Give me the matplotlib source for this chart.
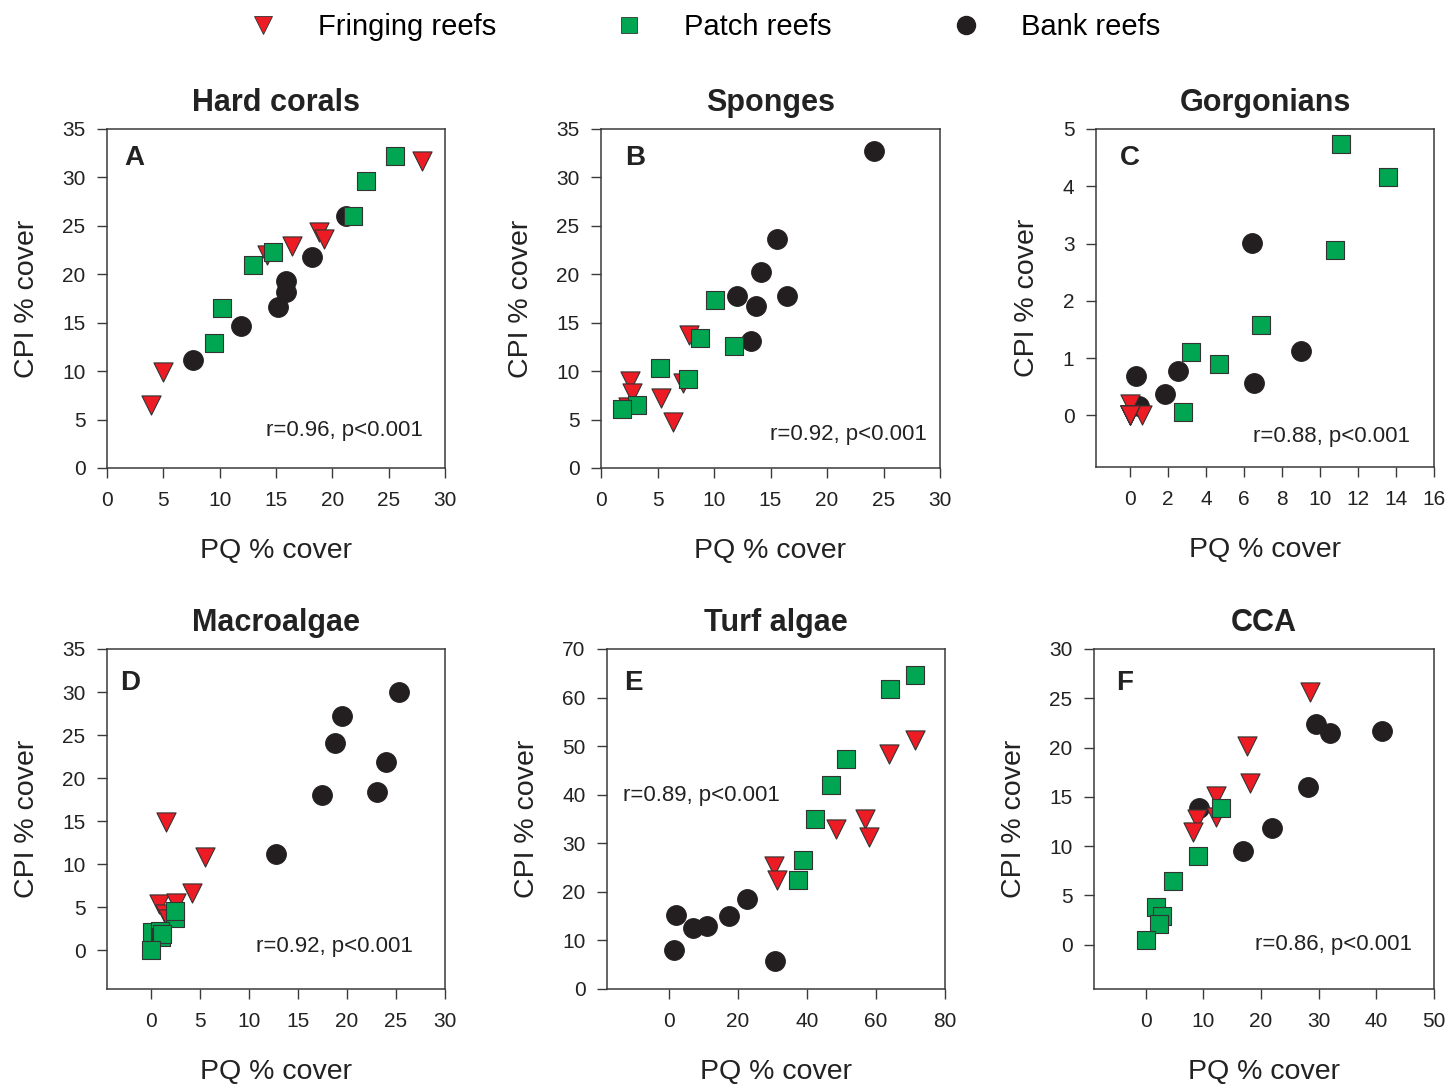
import numpy as np
import matplotlib
matplotlib.use('Agg')
import matplotlib.pyplot as plt
from matplotlib.lines import Line2D

# A - Hard corals
hc_fringing_pq = [28.0, 3.9, 5.0, 14.2, 16.4, 18.8, 19.3]
hc_fringing_cpi = [31.7, 6.5, 9.9, 22.0, 22.9, 24.4, 23.6]
hc_patch_pq = [25.6, 23.0, 21.8, 14.7, 13.0, 10.2, 9.5]
hc_patch_cpi = [32.2, 29.6, 26.0, 22.3, 21.0, 16.5, 12.9]
hc_bank_pq = [21.2, 18.2, 15.9, 15.9, 15.2, 11.9, 7.6]
hc_bank_cpi = [26.0, 21.8, 19.3, 18.2, 16.6, 14.7, 11.1]

# B - Sponges
sp_fringing_pq = [2.6, 2.7, 2.4, 7.8, 7.3, 5.3, 6.4]
sp_fringing_cpi = [9.0, 7.7, 6.3, 13.7, 8.8, 7.2, 4.7]
sp_patch_pq = [10.1, 8.8, 11.8, 5.2, 7.7, 3.2, 1.9]
sp_patch_cpi = [17.3, 13.4, 12.6, 10.3, 9.2, 6.5, 6.1]
sp_bank_pq = [24.2, 15.6, 14.2, 12.0, 16.5, 13.7, 13.3]
sp_bank_cpi = [32.7, 23.6, 20.2, 17.8, 17.8, 16.7, 13.1]

# C - Gorgonians
gg_fringing_pq = [0.0, 0.0, 0.6, 0.0, 0.0, 0.0, 0.0]
gg_fringing_cpi = [0.2, 0.0, 0.0, 0.0, 0.0, 0.0, 0.0]
gg_patch_pq = [11.1, 13.6, 10.8, 6.9, 3.2, 4.7, 2.8]
gg_patch_cpi = [4.74, 4.17, 2.89, 1.57, 1.10, 0.90, 0.06]
gg_bank_pq = [6.4, 9.0, 2.5, 0.3, 1.85, 6.5, 0.45]
gg_bank_cpi = [3.01, 1.13, 0.78, 0.69, 0.38, 0.57, 0.17]

# D - Macroalgae
ma_fringing_pq = [1.5, 5.5, 4.2, 0.85, 2.5, 1.4, 1.7]
ma_fringing_cpi = [14.9, 10.8, 6.7, 5.35, 5.5, 4.2, 3.6]
ma_patch_pq = [2.4, 2.4, 0.1, 0.9, 1.0, 1.1, 0.0]
ma_patch_cpi = [3.8, 4.6, 2.1, 2.2, 1.5, 1.9, 0.0]
ma_bank_pq = [25.3, 19.5, 18.8, 24.0, 23.1, 17.4, 12.7]
ma_bank_cpi = [30.0, 27.2, 24.1, 21.9, 18.4, 18.0, 11.2]

# E - Turf algae
ta_fringing_pq = [71.3, 63.9, 56.7, 58.1, 48.5, 30.3, 31.2]
ta_fringing_cpi = [51.3, 48.4, 35.1, 31.3, 32.9, 25.3, 22.4]
ta_patch_pq = [71.3, 64.1, 51.2, 47.0, 42.3, 38.7, 37.5]
ta_patch_cpi = [64.7, 61.8, 47.3, 42.0, 35.1, 26.5, 22.4]
ta_bank_pq = [22.6, 17.5, 2.1, 7.0, 11.1, 1.3, 30.6]
ta_bank_cpi = [18.6, 15.1, 15.2, 12.6, 13.0, 8.1, 5.7]

# F - CCA
cca_fringing_pq = [28.4, 17.6, 18.1, 12.2, 12.1, 8.8, 8.2]
cca_fringing_cpi = [25.6, 20.2, 16.4, 15.1, 13.0, 12.7, 11.4]
cca_patch_pq = [13.1, 9.1, 4.75, 1.74, 2.73, 2.26, 0.0]
cca_patch_cpi = [13.9, 9.0, 6.5, 3.84, 2.9, 2.1, 0.44]
cca_bank_pq = [29.5, 32.0, 40.9, 28.1, 21.9, 16.9, 9.2]
cca_bank_cpi = [22.4, 21.5, 21.7, 16.0, 11.8, 9.5, 13.9]

titles = ['Hard corals', 'Sponges', 'Gorgonians', 'Macroalgae', 'Turf algae', 'CCA']
letters = ['A', 'B', 'C', 'D', 'E', 'F']
stats = ['r=0.96, p<0.001', 'r=0.92, p<0.001', 'r=0.88, p<0.001',
         'r=0.92, p<0.001', 'r=0.89, p<0.001', 'r=0.86, p<0.001']
group_names = ['Fringing reefs', 'Patch reefs', 'Bank reefs']

panels = [
    (hc_fringing_pq, hc_fringing_cpi, hc_patch_pq, hc_patch_cpi, hc_bank_pq, hc_bank_cpi),
    (sp_fringing_pq, sp_fringing_cpi, sp_patch_pq, sp_patch_cpi, sp_bank_pq, sp_bank_cpi),
    (gg_fringing_pq, gg_fringing_cpi, gg_patch_pq, gg_patch_cpi, gg_bank_pq, gg_bank_cpi),
    (ma_fringing_pq, ma_fringing_cpi, ma_patch_pq, ma_patch_cpi, ma_bank_pq, ma_bank_cpi),
    (ta_fringing_pq, ta_fringing_cpi, ta_patch_pq, ta_patch_cpi, ta_bank_pq, ta_bank_cpi),
    (cca_fringing_pq, cca_fringing_cpi, cca_patch_pq, cca_patch_cpi, cca_bank_pq, cca_bank_cpi),
]

# axis settings per panel
xlims = [(0, 30), (0, 30), (-1.8, 16), (-4.5, 30), (-18, 80), (-9, 50)]
ylims = [(0, 35), (0, 35), (-0.9, 5), (-4.5, 35), (0, 70), (-4.5, 30)]
xticks = [np.arange(0, 31, 5), np.arange(0, 31, 5), np.arange(0, 17, 2),
          np.arange(0, 31, 5), np.arange(0, 81, 20), np.arange(0, 51, 10)]
yticks = [np.arange(0, 36, 5), np.arange(0, 36, 5), np.arange(0, 6, 1),
          np.arange(0, 36, 5), np.arange(0, 71, 10), np.arange(0, 31, 5)]

# pixel boxes (left, top, right, bottom) in a 1449x1084 figure
boxes = [(107, 129, 445, 468), (601, 129, 940, 468), (1096, 129, 1434, 467),
         (107, 649, 445, 989), (607, 649, 945, 989), (1094, 649, 1434, 989)]
stat_pos = [(0.935, 0.11, 'right'), (0.96, 0.10, 'right'), (0.93, 0.09, 'right'),
            (0.905, 0.126, 'right'), (0.047, 0.57, 'left'), (0.935, 0.13, 'right')]
letter_pos = [(0.05, 0.915), (0.07, 0.915), (0.07, 0.915),
              (0.04, 0.90), (0.05, 0.90), (0.065, 0.90)]

red = '#ED1C24'
green = '#00A651'
black = '#231F20'
edge = '#333333'
spine_col = '#3a3a3a'
txt = '#222222'

plt.rcParams['font.family'] = ['Liberation Sans', 'DejaVu Sans']
W, H = 1449, 1084
fig = plt.figure(figsize=[W / 100, H / 100], dpi=100)

for i in range(6):
    l, t, r, b = boxes[i]
    ax = fig.add_axes([l / W, 1 - b / H, (r - l) / W, (b - t) / H])
    fr_x, fr_y, pa_x, pa_y, ba_x, ba_y = panels[i]

    # bank first, then fringing, patch on top
    ax.scatter(ba_x, ba_y, s=205, marker='o', color=black, edgecolors=black, linewidths=0.6, zorder=3)
    ax.scatter(fr_x, fr_y, s=190, marker='v', color=red, edgecolors=edge, linewidths=0.8, zorder=4)
    ax.scatter(pa_x, pa_y, s=150, marker='s', color=green, edgecolors=edge, linewidths=0.8, zorder=5)

    ax.set_xlim(xlims[i])
    ax.set_ylim(ylims[i])
    ax.set_xticks(xticks[i])
    ax.set_yticks(yticks[i])
    ax.tick_params(axis='both', direction='out', length=7.5, width=1, colors=spine_col,
                   labelcolor=txt, labelsize=15)
    ax.tick_params(axis='y', pad=8)
    ax.tick_params(axis='x', pad=9)
    for sp in ax.spines.values():
        sp.set_color(spine_col)
        sp.set_linewidth(1.1)

    ax.set_title(titles[i], fontsize=22, fontweight='bold', pad=13, color=txt)
    ax.set_xlabel('PQ % cover', fontsize=20.5, labelpad=20, color=txt)
    ax.set_ylabel('CPI % cover', fontsize=20.5, labelpad=16, color=txt)

    sx, sy, ha = stat_pos[i]
    ax.text(sx, sy, stats[i], transform=ax.transAxes, ha=ha, va='center', fontsize=16, color=txt)
    lx, ly = letter_pos[i]
    ax.text(lx, ly, letters[i], transform=ax.transAxes, ha='left', va='center',
            fontsize=20, fontweight='bold', color=txt)

# legend across the top, one entry each
handles = [Line2D([], [], linestyle='none', marker='v', markersize=13, markerfacecolor=red, markeredgecolor=edge, markeredgewidth=0.6),
           Line2D([], [], linestyle='none', marker='s', markersize=11, markerfacecolor=green, markeredgecolor=edge, markeredgewidth=0.6),
           Line2D([], [], linestyle='none', marker='o', markersize=13, markerfacecolor=black, markeredgecolor=black)]
marker_x = [262, 628, 965]
for j in range(3):
    fig.legend([handles[j]], [group_names[j]], loc='center left',
               bbox_to_anchor=((marker_x[j] - 14) / W, 1 - 27 / H),
               frameon=False, fontsize=21, handlelength=1.0, handletextpad=1.4,
               borderpad=0, borderaxespad=0)

fig.savefig('out.png', dpi=100)
